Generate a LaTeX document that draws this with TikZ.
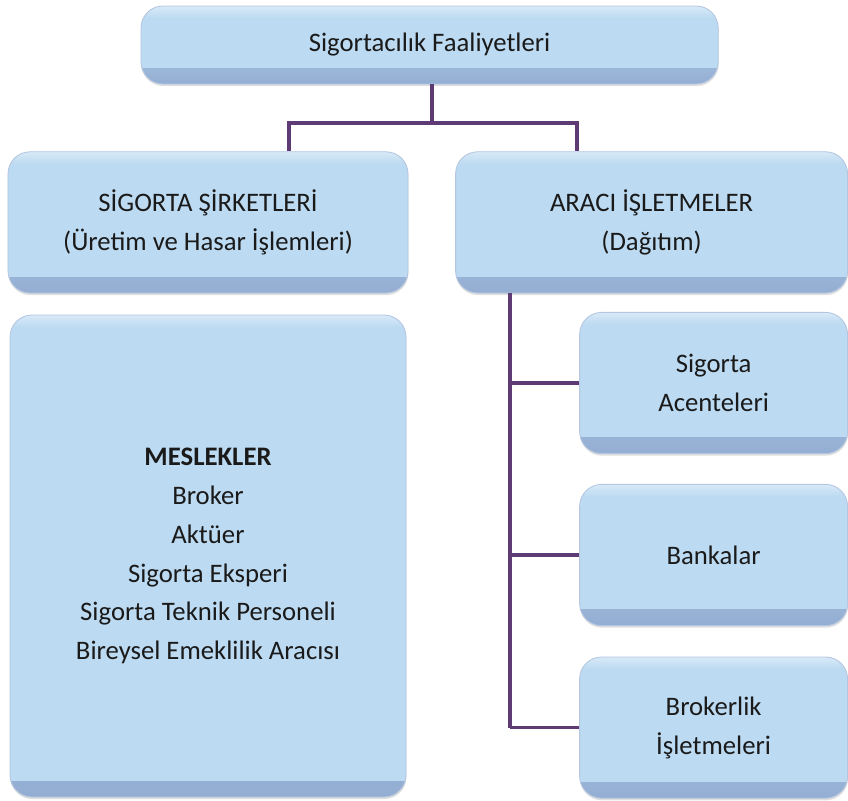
\documentclass[tikz,border=0pt]{standalone}
\usepackage{fontspec}
\setmainfont{Carlito}
\usetikzlibrary{calc,math,shadows}

\definecolor{boxfill}{HTML}{BCDAF1}
\definecolor{rimdark}{HTML}{94AED3}
\definecolor{rimlight}{HTML}{D8E9F7}
\definecolor{linkcol}{HTML}{5F3B76}
\definecolor{textcol}{HTML}{1A1A1A}

\tikzset{
  box/.style={rounded corners=0.55cm, fill=boxfill, draw=rimdark!70, line width=0.6pt,
    drop shadow={opacity=0.25, shadow xshift=0.3pt, shadow yshift=-1.5pt},
    path picture={
      \shade[sharp corners, top color=boxfill, bottom color=rimdark] (path picture bounding box.south west) rectangle ([yshift=0.4cm]path picture bounding box.south east);
      \shade[sharp corners, top color=rimlight, bottom color=boxfill] (path picture bounding box.north west) rectangle ([yshift=-0.3cm]path picture bounding box.north east);
    },
    align=center, text=textcol, font=\fontsize{19}{27.6}\selectfont, inner sep=0pt},
  link/.style={draw=linkcol, line width=2.2pt}
}

\begin{document}
\begin{tikzpicture}
  \useasboundingbox (0,0) rectangle (21.2,-20);
  \tikzmath{
    real \h;
    \h = 3.53;
  }
  \node[box, minimum width=14.43cm, minimum height=1.95cm] (top) at (10.74,-1.125) {Sigortacılık Faaliyetleri};
  \node[box, minimum width=10cm, minimum height=\h cm] (sirket) at (5.2,-5.56) {SİGORTA ŞİRKETLERİ\\(Üretim ve Hasar İşlemleri)};
  \node[box, minimum width=9.8cm, minimum height=\h cm] (araci) at (16.29,-5.56) {ARACI İŞLETMELER\\(Dağıtım)};
  \node[box, minimum width=9.9cm, minimum height=12.05cm] (meslek) at (5.2,-13.9) {\textbf{MESLEKLER}\\Broker\\Aktüer\\Sigorta Eksperi\\Sigorta Teknik Personeli\\Bireysel Emeklilik Aracısı};

  \coordinate (split) at (10.8,-3.075);
  \coordinate (jl) at (7.225,-3.075);
  \coordinate (jr) at (14.425,-3.075);
  \coordinate (trunk) at (12.75,-8);
  \draw[link] (top.south -| split) -- (split);
  \draw[link] (sirket.north -| jl) -- (jl) -- (jr) -- (araci.north -| jr);

  \foreach \name/\y/\txt in {acente/-9.575/{Sigorta\\Acenteleri}, banka/-13.875/Bankalar, broker/-18.19/{Brokerlik\\İşletmeleri}} {
    \node[box, minimum width=6.7cm, minimum height=\h cm] (\name) at (17.84,\y) {\txt};
    \draw[link] (\name.west) -- (\name.west -| trunk);
  }
  \draw[link] (araci.south -| trunk) -- (broker.west -| trunk);
\end{tikzpicture}
\end{document}
